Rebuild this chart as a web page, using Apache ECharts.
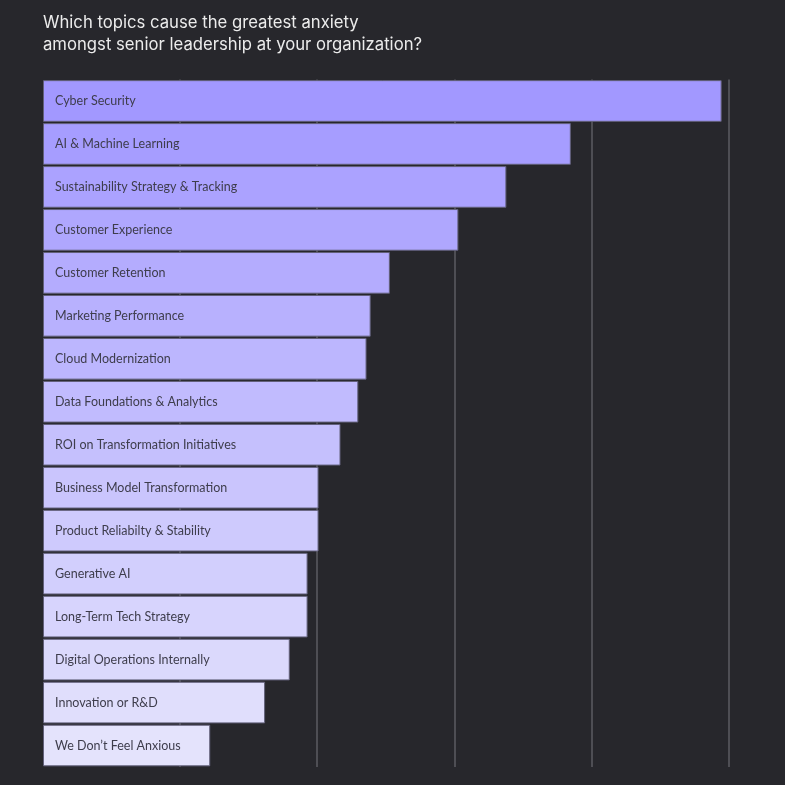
<!DOCTYPE html>
<html>
<head>
<meta charset="utf-8">
<script src="https://cdn.jsdelivr.net/npm/echarts@6/dist/echarts.min.js"></script>
<style>
html,body{margin:0;padding:0;background:#27272c;}
#chart{width:785px;height:785px;}
</style>
</head>
<body>
<div id="chart"></div>
<script>
const titleLines = ["Which topics cause the greatest anxiety", "amongst senior leadership at your organization?"];
const categories = [
  "Cyber Security",
  "AI & Machine Learning",
  "Sustainability Strategy & Tracking",
  "Customer Experience",
  "Customer Retention",
  "Marketing Performance",
  "Cloud Modernization",
  "Data Foundations & Analytics",
  "ROI on Transformation Initiatives",
  "Business Model Transformation",
  "Product Reliabilty & Stability",
  "Generative AI",
  "Long-Term Tech Strategy",
  "Digital Operations Internally",
  "Innovation or R&D",
  "We Don\u2019t Feel Anxious"
];
const values = [49.5, 38.5, 33.8, 30.3, 25.3, 23.9, 23.6, 23.0, 21.7, 20.1, 20.1, 19.3, 19.3, 18.0, 16.2, 12.2];
const axisMax = 50;
const axisInterval = 10;

// style: colour ramp from deep lavender (top) to pale lavender (bottom)
const cTop = [162, 152, 255], cBot = [228, 227, 252];
function rampColor(i, n) {
  const t = n > 1 ? i / (n - 1) : 0;
  const c = cTop.map((v, k) => Math.round(v + (cBot[k] - v) * t));
  return 'rgb(' + c.join(',') + ')';
}

const chart = echarts.init(document.getElementById('chart'));
chart.setOption({
  backgroundColor: '#27272c',
  animation: false,
  title: {
    text: titleLines.join('\n'),
    left: 43,
    top: 12,
    padding: 0,
    textStyle: {
      color: '#ececec',
      fontSize: 16.7,
      fontWeight: 'normal',
      fontFamily: 'Inter, "Noto Sans", sans-serif',
      lineHeight: 22
    }
  },
  grid: { left: 43, right: 56.5, top: 79.5, bottom: 18, containLabel: false },
  xAxis: {
    type: 'value',
    min: 0,
    max: axisMax,
    interval: axisInterval,
    axisLabel: { show: false },
    axisLine: { show: false },
    axisTick: { show: false },
    splitLine: { show: true, showMinLine: false, lineStyle: { color: '#5c5c62', width: 1.5 } }
  },
  yAxis: {
    type: 'category',
    data: categories,
    inverse: true,
    axisLabel: { show: false },
    axisLine: { show: false },
    axisTick: { show: false },
    splitLine: { show: false }
  },
  series: [{
    type: 'bar',
    barCategoryGap: '3%',
    data: values.map((v, i) => ({
      value: v,
      itemStyle: { color: rampColor(i, values.length) }
    })),
    itemStyle: { borderColor: '#62607a', borderWidth: 1 },
    label: {
      show: true,
      position: 'insideLeft',
      distance: 12,
      formatter: p => categories[p.dataIndex],
      color: '#3e3d4c',
      fontSize: 12.5,
      fontFamily: 'Lato, "Noto Sans", sans-serif'
    }
  }]
});
</script>
</body>
</html>
